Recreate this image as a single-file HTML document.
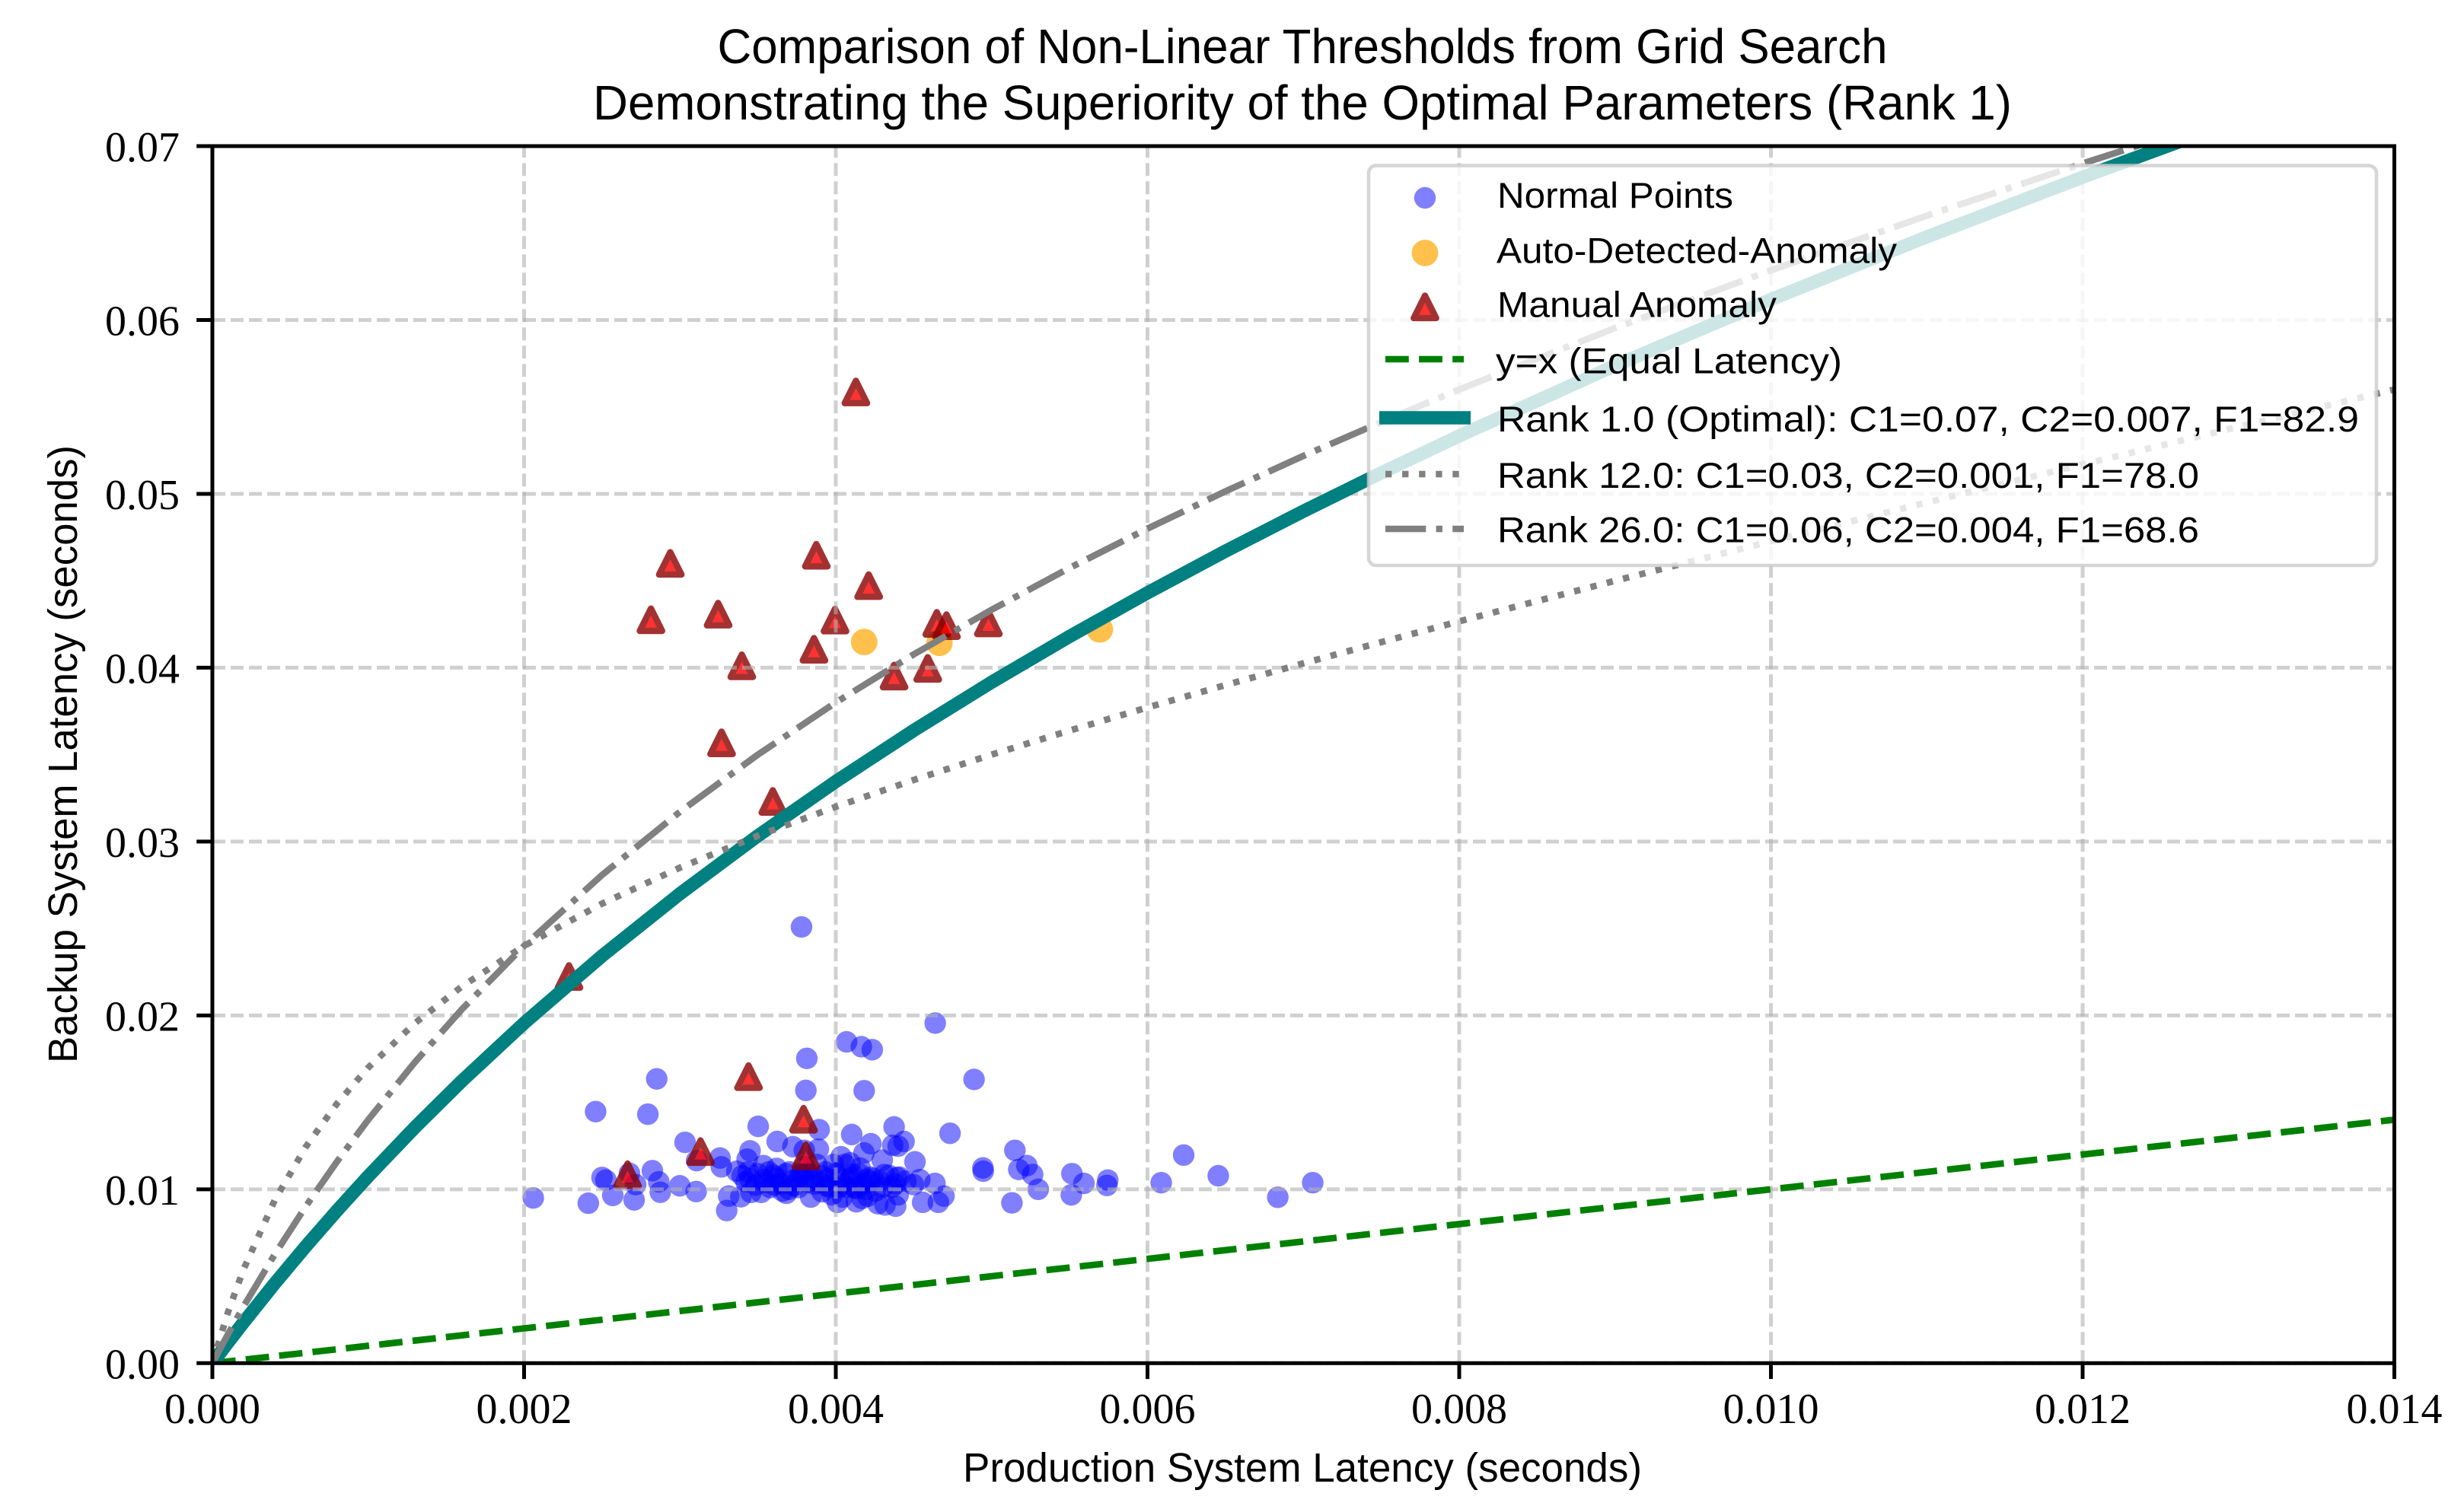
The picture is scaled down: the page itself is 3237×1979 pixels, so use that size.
<!DOCTYPE html>
<html lang="en">
<head>
<meta charset="utf-8">
<title>Comparison of Non-Linear Thresholds from Grid Search</title>
<style>
html,body{margin:0;padding:0;background:#fff;}
svg{display:block;}
.sans{font-family:"Liberation Sans",sans-serif;fill:#000;}
.serif{font-family:"Liberation Serif",serif;fill:#000;}
</style>
</head>
<body>
<svg id="chart" xmlns="http://www.w3.org/2000/svg" width="3237" height="1979" viewBox="0 0 3237 1979">
  <defs>
    <clipPath id="axes-clip"><rect x="279" y="192" width="2866.5" height="1599.3"/></clipPath>
  </defs>
  <rect x="0" y="0" width="3237" height="1979" fill="#fff"/>
  <text class="sans" x="1711" y="83" font-size="64" text-anchor="middle" textLength="1537" lengthAdjust="spacingAndGlyphs">Comparison of Non-Linear Thresholds from Grid Search</text>
  <text class="sans" x="1711" y="157" font-size="64" text-anchor="middle" textLength="1864" lengthAdjust="spacingAndGlyphs">Demonstrating the Superiority of the Optimal Parameters (Rank 1)</text>
  <g id="scatter-layer" clip-path="url(#axes-clip)"></g>
  <g id="grid-layer" clip-path="url(#axes-clip)"></g>
  <g id="line-layer" clip-path="url(#axes-clip)"></g>
  <g id="tick-layer"></g>
  <g fill="none" stroke="#000" stroke-width="5">
    <rect x="279" y="192" width="2866.5" height="1599.3" stroke-linejoin="miter"/>
  </g>
  <text class="sans" x="1711" y="1947" font-size="54" text-anchor="middle" textLength="892" lengthAdjust="spacingAndGlyphs">Production System Latency (seconds)</text>
  <text class="sans" transform="translate(101 991) rotate(-90)" x="0" y="0" font-size="54" text-anchor="middle" textLength="812" lengthAdjust="spacingAndGlyphs">Backup System Latency (seconds)</text>

  <g>
    <rect x="1798" y="217.6" width="1324" height="525.4" rx="10" ry="10" fill="#fff" fill-opacity="0.8" stroke="#ccc" stroke-opacity="0.8" stroke-width="4.6"/>
    <circle cx="1872" cy="260" r="14.2" fill="#00f" fill-opacity="0.5"/>
    <text class="sans" x="1967" y="273" font-size="47" textLength="310" lengthAdjust="spacingAndGlyphs">Normal Points</text>
    <circle cx="1872" cy="332.4" r="17.4" fill="#ffa500" fill-opacity="0.7"/>
    <text class="sans" x="1966" y="345.6" font-size="47" textLength="526" lengthAdjust="spacingAndGlyphs">Auto-Detected-Anomaly</text>
    <polygon points="1872,388.5 1857.3,418 1886.7,418" fill="#f00" stroke="#8b0000" opacity="0.8" stroke-width="8.3" stroke-linejoin="round"/>
    <text class="sans" x="1967" y="416.4" font-size="47" textLength="367" lengthAdjust="spacingAndGlyphs">Manual Anomaly</text>
    <line x1="1820" x2="1923" y1="472" y2="472" stroke="#008000" stroke-width="8.6" stroke-dasharray="30.8 13.3"/>
    <text class="sans" x="1965" y="490.5" font-size="47" textLength="455" lengthAdjust="spacingAndGlyphs">y=x (Equal Latency)</text>
    <line x1="1812" x2="1932" y1="549" y2="549" stroke="#008080" stroke-width="17.5"/>
    <text class="sans" x="1967" y="567" font-size="47" textLength="1132" lengthAdjust="spacingAndGlyphs">Rank 1.0 (Optimal): C1=0.07, C2=0.007, F1=82.9</text>
    <line x1="1820" x2="1923" y1="623" y2="623" stroke="#808080" stroke-width="8.6" stroke-dasharray="8.33 13.75"/>
    <text class="sans" x="1967" y="641" font-size="47" textLength="922" lengthAdjust="spacingAndGlyphs">Rank 12.0: C1=0.03, C2=0.001, F1=78.0</text>
    <line x1="1820" x2="1923" y1="695" y2="695" stroke="#808080" stroke-width="8.6" stroke-dasharray="53.3 13.3 8.33 13.3"/>
    <text class="sans" x="1967" y="712.6" font-size="47" textLength="922" lengthAdjust="spacingAndGlyphs">Rank 26.0: C1=0.06, C2=0.004, F1=68.6</text>
  </g>
</svg>
<script>
const xTickValues = [0, 0.002, 0.004, 0.006, 0.008, 0.010, 0.012, 0.014];
const xTickLabels = ['0.000', '0.002', '0.004', '0.006', '0.008', '0.010', '0.012', '0.014'];
const yTickValues = [0, 0.01, 0.02, 0.03, 0.04, 0.05, 0.06, 0.07];
const yTickLabels = ['0.00', '0.01', '0.02', '0.03', '0.04', '0.05', '0.06', '0.07'];

const normalX = [0.002059,0.002412,0.002500,0.002525,0.002569,0.002676,0.002716,0.002706,0.002823,0.002864,0.002874,0.002999,0.003104,0.003107,0.003033,0.003257,0.003266,0.003450,0.003431,0.003313,0.003391,0.003300,0.003624,0.003725,0.003798,0.003893,0.003888,0.003502,0.003814,0.003808,0.003780,0.002851,0.002459,0.002794,0.004069,0.004164,0.004234,0.004638,0.004182,0.004887,0.004102,0.004374,0.004733,0.004225,0.004365,0.004438,0.004400,0.004181,0.004298,0.004508,0.004944,0.004946,0.005149,0.005174,0.005226,0.005263,0.005299,0.005130,0.005515,0.005592,0.005511,0.005745,0.005740,0.006232,0.006454,0.006088,0.006836,0.007060,0.004636,0.004694,0.004658,0.004557,0.004539,0.004498,0.004409,0.004392,0.004384,0.004316,0.004270,0.004169,0.004132,0.004311,0.004238,0.004156,0.004091,0.004303,0.004220,0.004189,0.004107,0.004059,0.004073,0.004034,0.003536,0.003570,0.003438,0.003399,0.003424,0.003487,0.003521,0.003603,0.003701,0.003683,0.003766,0.003839,0.003798,0.003878,0.003912,0.003976,0.003961,0.003456,0.003365,0.004042,0.004091,0.004205,0.003619,0.003731,0.003863,0.003936,0.003985,0.004024,0.003814,0.003536,0.003658,0.003912,0.004254,0.004361,0.004449,0.004132,0.004400,0.004010,0.004205,0.003450,0.003500,0.003550,0.003600,0.003650,0.003680,0.003720,0.003780,0.003820,0.003850,0.003900,0.003950,0.004000,0.004050,0.004100,0.004150,0.004180,0.004220,0.004280,0.004340,0.004380,0.003580,0.003760,0.003940,0.004120,0.003620,0.003800,0.004020,0.003700];
const normalY = [0.00950,0.00920,0.01068,0.01053,0.00965,0.01092,0.01027,0.00939,0.01107,0.01043,0.00983,0.01020,0.00987,0.01165,0.01270,0.01180,0.01129,0.01221,0.01173,0.00961,0.00957,0.00878,0.01275,0.01245,0.01224,0.01343,0.01231,0.01362,0.01753,0.01569,0.02509,0.01635,0.01447,0.01432,0.01848,0.01820,0.01803,0.01956,0.01567,0.01632,0.01315,0.01359,0.01322,0.01262,0.01253,0.01275,0.01248,0.01209,0.01168,0.01158,0.01123,0.01104,0.01224,0.01114,0.01136,0.01085,0.01000,0.00922,0.01090,0.01034,0.00968,0.01053,0.01022,0.01197,0.01078,0.01038,0.00954,0.01038,0.01034,0.00961,0.00925,0.00925,0.01056,0.01027,0.01070,0.01068,0.00903,0.00910,0.00917,0.00947,0.00928,0.01085,0.01063,0.01122,0.01152,0.01012,0.01043,0.00999,0.01087,0.01143,0.01012,0.01187,0.01136,0.01100,0.01100,0.01078,0.01043,0.01025,0.00982,0.01025,0.01100,0.00977,0.01069,0.00955,0.01056,0.01143,0.01078,0.00968,0.01012,0.00982,0.01104,0.00955,0.01056,0.01056,0.01065,0.01021,0.01030,0.01100,0.01143,0.01065,0.01100,0.01056,0.00990,0.00986,0.00990,0.01012,0.01047,0.01003,0.00968,0.00925,0.00960,0.01060,0.01090,0.01040,0.01080,0.01030,0.01090,0.01050,0.01090,0.01040,0.01070,0.01040,0.01060,0.01090,0.01030,0.01070,0.01090,0.01030,0.01070,0.01050,0.01080,0.01030,0.01010,0.01010,0.01020,0.01010,0.01120,0.01130,0.01010,0.01000];

const autoX = [0.004182, 0.004665, 0.005694];
const autoY = [0.04148, 0.04143, 0.04220];

const manualX = [0.004129,0.002938,0.003875,0.004211,0.002814,0.003245,0.003995,0.003860,0.003397,0.004374,0.004590,0.004648,0.004710,0.004979,0.003267,0.003596,0.003440,0.003793,0.003808,0.003132,0.002664,0.002288];
const manualY = [0.05586,0.04600,0.04647,0.04472,0.04276,0.04308,0.04274,0.04106,0.04011,0.03952,0.03996,0.04255,0.04242,0.04258,0.03568,0.03231,0.01648,0.01403,0.01193,0.01217,0.01084,0.02224];

const equalLineX = [0, 0.014];
const equalLineY = [0, 0.014];

const curveX = [0,0.0001,0.0002,0.0004,0.0006,0.0008,0.001,0.0013,0.0016,0.002,0.0025,0.003,0.0035,0.004,0.0045,0.005,0.0055,0.006,0.0065,0.007,0.0075,0.008,0.009,0.010,0.011,0.012,0.013,0.014];
const rank1Y = [0,0.001186,0.002344,0.004584,0.006726,0.008779,0.01075,0.013564,0.016223,0.019556,0.023421,0.027,0.030333,0.033455,0.036391,0.039167,0.0418,0.044308,0.046704,0.049,0.051207,0.053333,0.057375,0.061176,0.064778,0.068211,0.0715,0.074667];
const rank12Y = [0,0.002927,0.0054,0.009371,0.01245,0.014933,0.017,0.019557,0.021662,0.024,0.026429,0.0285,0.030333,0.032,0.033545,0.035,0.036385,0.037714,0.039,0.04025,0.041471,0.042667,0.045,0.047273,0.0495,0.051692,0.053857,0.056];
const rank26Y = [0,0.001663,0.003257,0.006255,0.009026,0.0116,0.014,0.017317,0.020343,0.024,0.028077,0.031714,0.035,0.038,0.040765,0.043333,0.045737,0.048,0.050143,0.052182,0.05413,0.056,0.059538,0.062857,0.066,0.069,0.071882,0.074667];

const SVG_NS = 'http://www.w3.org/2000/svg';
const plotLeft = 279, plotRight = 3145.5, plotTop = 192, plotBottom = 1791.3;
const xMax = 0.014, yMax = 0.07;

function xScale(v) { return plotLeft + (v / xMax) * (plotRight - plotLeft); }
function yScale(v) { return plotBottom - (v / yMax) * (plotBottom - plotTop); }

function make(tag, attrs, parent) {
  const node = document.createElementNS(SVG_NS, tag);
  Object.keys(attrs).forEach(function (k) { node.setAttribute(k, attrs[k]); });
  parent.appendChild(node);
  return node;
}

function linePath(xs, ys) {
  return xs.map(function (x, i) {
    return (i ? 'L' : 'M') + xScale(x).toFixed(2) + ' ' + yScale(ys[i]).toFixed(2);
  }).join(' ');
}

const scatterLayer = document.getElementById('scatter-layer');
const gridLayer = document.getElementById('grid-layer');
const lineLayer = document.getElementById('line-layer');
const tickLayer = document.getElementById('tick-layer');

normalX.forEach(function (x, i) {
  const el = make('circle', { cx: xScale(x), cy: yScale(normalY[i]), r: 14.2, fill: '#0000ff', 'fill-opacity': 0.5 }, scatterLayer);
  
  
});

autoX.forEach(function (x, i) {
  const el = make('circle', { cx: xScale(x), cy: yScale(autoY[i]), r: 17.4, fill: '#ffa500', 'fill-opacity': 0.7 }, scatterLayer);
  
  
});

manualX.forEach(function (x, i) {
  const cx = xScale(x), cy = yScale(manualY[i]), h = 14.7;
  const pts = cx + ',' + (cy - h) + ' ' + (cx - h) + ',' + (cy + h) + ' ' + (cx + h) + ',' + (cy + h);
  const el = make('polygon', { points: pts, fill: '#ff0000', stroke: '#8b0000', opacity: 0.8, 'stroke-width': 8.3, 'stroke-linejoin': 'round' }, scatterLayer);
  
  
});

xTickValues.forEach(function (v) {
  const el = make('line', { x1: xScale(v), x2: xScale(v), y1: plotBottom, y2: plotTop, stroke: '#b0b0b0', 'stroke-opacity': 0.6, 'stroke-width': 5, 'stroke-dasharray': '17 7' }, gridLayer);
  
  
});

yTickValues.forEach(function (v) {
  const el = make('line', { x1: plotLeft, x2: plotRight, y1: yScale(v), y2: yScale(v), stroke: '#b0b0b0', 'stroke-opacity': 0.6, 'stroke-width': 5, 'stroke-dasharray': '17 7' }, gridLayer);
  
  
});

const equalLine = make('path', { d: linePath(equalLineX, equalLineY), fill: 'none', stroke: '#008000', 'stroke-width': 8.6, 'stroke-dasharray': '30.8 13.3' }, lineLayer);



const rank1Line = make('path', { d: linePath(curveX, rank1Y), fill: 'none', stroke: '#008080', 'stroke-width': 17.5, 'stroke-linejoin': 'round' }, lineLayer);



const rank12Line = make('path', { d: linePath(curveX, rank12Y), fill: 'none', stroke: '#808080', 'stroke-width': 8.6, 'stroke-dasharray': '8.33 13.75', 'stroke-linejoin': 'round' }, lineLayer);



const rank26Line = make('path', { d: linePath(curveX, rank26Y), fill: 'none', stroke: '#808080', 'stroke-width': 8.6, 'stroke-dasharray': '53.3 13.3 8.33 13.3', 'stroke-linejoin': 'round' }, lineLayer);



xTickValues.forEach(function (v, i) {
  const mark = make('line', { x1: xScale(v), x2: xScale(v), y1: plotBottom, y2: plotBottom + 20.8, stroke: '#000', 'stroke-width': 5 }, tickLayer);
  
  
  const label = make('text', { x: xScale(v), y: 1870, 'font-size': 56, 'text-anchor': 'middle', class: 'serif' }, tickLayer);
  
  
  label.textContent = xTickLabels[i];
});

yTickValues.forEach(function (v, i) {
  const mark = make('line', { x1: plotLeft - 20.8, x2: plotLeft, y1: yScale(v), y2: yScale(v), stroke: '#000', 'stroke-width': 5 }, tickLayer);
  
  
  const label = make('text', { x: 236, y: yScale(v) + 20, 'font-size': 56, 'text-anchor': 'end', class: 'serif' }, tickLayer);
  
  
  label.textContent = yTickLabels[i];
});
</script>
</body>
</html>
